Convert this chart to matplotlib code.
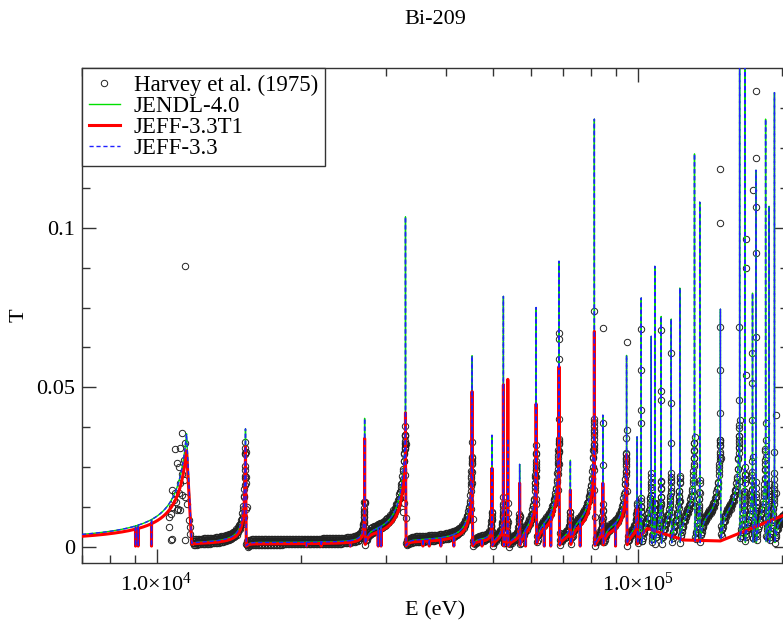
import numpy as np
import matplotlib
matplotlib.use("Agg")
import matplotlib.pyplot as plt
from matplotlib.lines import Line2D
from matplotlib.ticker import FixedLocator, NullFormatter, FixedFormatter

plt.rcParams['font.family'] = ['Liberation Serif', 'DejaVu Serif']
plt.rcParams['mathtext.fontset'] = 'custom'
plt.rcParams['mathtext.rm'] = 'Liberation Serif'
plt.rcParams['mathtext.it'] = 'Liberation Serif:italic'

# ---------------- data ----------------
title = "Bi-209"
x_label = "E (eV)"
y_label = "T"
series_labels = ["Harvey et al. (1975)", "JENDL-4.0", "JEFF-3.3T1", "JEFF-3.3"]

# resonance energies (eV)
res_E = np.array([11545, 15310, 27080, 32930, 45290, 49820, 52620, 53740, 56870,
                  61540, 68660, 72510, 81330, 84700, 94880, 99780, 101790, 106780,
                  108630, 112000, 117500, 122440, 131350, 134700, 148700, 163000,
                  167200, 173400, 176300, 184600, 187700, 192600, 210000])
# level reached by the smooth rise just below each resonance (JENDL / JEFF-3.3)
res_amp = np.array([0.0355, 0.036, 0.015, 0.036, 0.030, 0.012, 0.015, 0.015, 0.012,
                    0.030, 0.035, 0.012, 0.040, 0.015, 0.030, 0.015, 0.020, 0.025,
                    0.020, 0.025, 0.025, 0.025, 0.035, 0.025, 0.035, 0.040,
                    0.030, 0.030, 0.030, 0.035, 0.030, 0.030, 0.030])
# width of that rise (eV)
res_width = np.array([570, 79, 100, 690, 400, 150, 200, 100, 150,
                      500, 900, 200, 1000, 200, 1000, 300, 300, 500,
                      300, 400, 500, 500, 1000, 400, 1500, 1500,
                      500, 600, 400, 800, 400, 500, 1000])
# flat level between resonances
res_base = np.array([0.0, 0.0006, 0.0013, 0.0009, 0.0012, 0.002, 0.002, 0.002, 0.002,
                     0.002, 0.0025, 0.003, 0.003, 0.0025, 0.003, 0.004, 0.004, 0.005,
                     0.005, 0.005, 0.006, 0.006, 0.006, 0.006, 0.006, 0.007,
                     0.007, 0.007, 0.007, 0.007, 0.007, 0.007, 0.007])
# relative width of the fall just above each resonance
res_drop = np.array([0.026, 0.004, 0.003, 0.003, 0.003, 0.002, 0.002, 0.002, 0.002,
                     0.003, 0.003, 0.002, 0.003, 0.002, 0.003, 0.002, 0.002, 0.002,
                     0.002, 0.002, 0.002, 0.002, 0.003, 0.002, 0.003, 0.003,
                     0.002, 0.002, 0.002, 0.002, 0.002, 0.002, 0.002])
# spike tops
peak_jendl = np.array([0.0355, 0.037, 0.0403, 0.1034, 0.0599, 0.035, 0.0785, 0.034, 0.0259,
                       0.075, 0.0895, 0.0272, 0.134, 0.0413, 0.060, 0.0345, 0.078, 0.066,
                       0.0879, 0.0722, 0.0714, 0.0811, 0.1231, 0.108, 0.0745, 0.16,
                       0.16, 0.0795, 0.118, 0.134, 0.1067, 0.1423, 0.0])
peak_jeff33 = peak_jendl.copy()
# JEFF-3.3T1 (resonances below 100 keV)
t1_res_count = 16
t1_amp_scale = np.array([0.85, 0.82, 0.8, 0.8, 0.8, 0.8, 0.8, 0.8, 0.8,
                         0.8, 0.8, 0.8, 0.8, 0.8, 0.8, 0.8])
peak_t1 = np.array([0.030, 0.0314, 0.034, 0.042, 0.0487, 0.0247, 0.0508, 0.0525, 0.020,
                    0.0448, 0.0565, 0.0178, 0.0675, 0.020, 0.029, 0.012])
# JEFF-3.3T1 smooth part above 100 keV
t1_high_E = np.array([1.0e5, 1.048e5, 1.248e5, 1.487e5, 2.055e5])
t1_high_T = np.array([0.0025, 0.0058, 0.0022, 0.0019, 0.0105])
# narrow dips
dip_E = np.array([9045, 9160, 9763, 20500, 22000, 25300, 28900, 29300, 35800, 36900,
                  39000, 41500, 47500, 58500, 64000, 66000, 76000, 90000])

# Harvey et al. points read individually (E eV, T)
harvey_E = np.array([11307, 11488, 10951, 11216, 11040, 11126, 11396, 11216, 10781, 10951,
                     11126, 11307, 11488, 11581, 10781, 11040, 11216, 10693, 10606, 10606,
                     11672, 11766, 11766, 10781, 10740, 11488, 11000, 11100, 10870, 11300,
                     11420, 11450,
                     15200, 15100, 15380, 15390, 15330,
                     27000, 26950, 26900,
                     32930, 32880, 32830, 32700, 32500,
                     45290, 45200, 45100,
                     61540, 61500, 61450, 61400,
                     68660, 68640, 68700, 68600, 68550, 68500, 68400,
                     81330, 81300, 81250, 81200, 81100,
                     84770, 84760, 84700,
                     94900, 94880, 94850, 94800,
                     101790, 101780, 101700, 101750,
                     112000, 111950, 111900,
                     117500, 117450, 117400,
                     148700, 148650, 148600, 148700, 148400, 148500,
                     162700, 162650, 162600,
                     167900, 167800, 167700, 167600,
                     173400, 173300, 173200, 173100,
                     176500, 176550, 176550, 176400, 176600,
                     184600, 184900,
                     193600, 193800])
harvey_T = np.array([0.0356, 0.0325, 0.0307, 0.0310, 0.0262, 0.0251, 0.0209, 0.0199, 0.0178, 0.0168,
                     0.0168, 0.0162, 0.0157, 0.0136, 0.0126, 0.0115, 0.0115, 0.0105, 0.0094, 0.0063,
                     0.0084, 0.0063, 0.0042, 0.0026, 0.0021, 0.0021, 0.0140, 0.0120, 0.0147, 0.0230,
                     0.0272, 0.088,
                     0.0094, 0.0073, 0.0199, 0.0126, 0.022,
                     0.014, 0.0094, 0.0068,
                     0.038, 0.031, 0.0225, 0.0137, 0.011,
                     0.033, 0.020, 0.012,
                     0.032, 0.024, 0.022, 0.015,
                     0.067, 0.065, 0.059, 0.040, 0.030, 0.023, 0.018,
                     0.074, 0.040, 0.030, 0.024, 0.018,
                     0.0687, 0.0387, 0.0256,
                     0.0643, 0.0368, 0.034, 0.0277,
                     0.0682, 0.0555, 0.0388, 0.043,
                     0.068, 0.049, 0.046,
                     0.0607, 0.045, 0.0325,
                     0.069, 0.0555, 0.042, 0.1183, 0.1015, 0.0335,
                     0.069, 0.046, 0.0314,
                     0.0965, 0.0874, 0.054, 0.0251,
                     0.1117, 0.0608, 0.0514, 0.0398,
                     0.1064, 0.1217, 0.1428, 0.0922, 0.0659,
                     0.0387, 0.0282,
                     0.0413, 0.0168])
# Harvey points that lie in the dense band along the smooth transmission
harvey_band_lo, harvey_band_hi, harvey_band_n = 11900.0, 205000.0, 1600
harvey_band_offsets = np.array([0.0005, 0.001, 0.0015, 0.0022, 0.003, 0.004, 0.0055])
harvey_band_spread = 0.0011   # half-thickness of the dense band of circles

# ---------------- curves ----------------
def model(E, amp, width, base, drop, peaks, n):
    T = np.zeros_like(E)
    lo = None
    for i in range(n):
        Er, A, g, b = res_E[i], amp[i], width[i], base[i]
        if lo is None:
            m = E <= Er
            rec = 1.0
        else:
            m = (E > lo) & (E <= Er)
            rec = 1 - np.exp(-(E[m] - lo) / (0.012 * lo))
        T[m] = (b + (A - b) * g / (g + Er - E[m])) * rec
        lo = Er
    for i in range(n):
        Er, A, d = res_E[i], amp[i], drop[i] * res_E[i]
        m = (E > Er) & (E < Er + d)
        T[m] = np.maximum(T[m], A * (1 - (E[m] - Er) / d))
    if peaks is not None:
        for i in range(n):
            k = np.searchsorted(E, res_E[i])
            T[k] = max(T[k], peaks[i])
    return T

grid = np.geomspace(7000, 206000, 9000)
extra = np.concatenate([res_E, res_E * (1 - 3e-4), res_E * (1 + 3e-4),
                        dip_E, dip_E * (1 - 4e-4), dip_E * (1 + 4e-4)])
E = np.unique(np.concatenate([grid, extra]))
nres = len(res_E)

T_jendl = model(E, res_amp, res_width, res_base, res_drop, peak_jendl, nres)
T_jeff = model(E, res_amp, res_width, res_base, res_drop, peak_jeff33, nres)
T_t1 = model(E, res_amp[:t1_res_count] * t1_amp_scale, res_width[:t1_res_count],
             res_base[:t1_res_count] * 0.7, res_drop[:t1_res_count], peak_t1, t1_res_count)
for d in dip_E:
    k = np.searchsorted(E, d)
    T_jendl[k] = T_jeff[k] = T_t1[k] = 0.0003
keep = E < t1_high_E[0]
E_t1 = np.concatenate([E[keep], t1_high_E])
T_t1 = np.concatenate([T_t1[keep], t1_high_T])

band_E = np.concatenate([np.geomspace(harvey_band_lo, harvey_band_hi, harvey_band_n),
                         (res_E[1:-1, None] * (1 - harvey_band_offsets[None, :])).ravel()])
band_E = np.sort(band_E)
band_T = model(band_E, res_amp, res_width, res_base, res_drop, None, nres)
band_T = band_T + harvey_band_spread * np.tile([0.0, 1.0, -0.6, 0.5], len(band_T) // 4 + 1)[:len(band_T)]

# ---------------- figure ----------------
W, H = 783, 625
fig = plt.figure(figsize=(W / 100, H / 100), dpi=100)
L, R, Tp, B = 82, 788, 68, 563
ax = fig.add_axes([L / W, 1 - B / H, (R - L) / W, (B - Tp) / H])

ax.plot(np.concatenate([harvey_E, band_E]), np.concatenate([harvey_T, band_T]),
        ls='none', marker='o', ms=4.6, mfc='none', mec='#222222', mew=0.7, zorder=1)
ax.plot(E, T_jendl, color='#00e000', lw=1.0, zorder=2)
ax.plot(E_t1, T_t1, color='#ff0000', lw=2.2, zorder=3)
ax.plot(E, T_jeff, color='#2020ff', lw=1.0, ls=(0, (3, 2)), zorder=4)

ax.set_xscale('log')
ax.set_xlim(7000, 205500)
ax.set_ylim(-0.005, 0.15)

ax.xaxis.set_major_locator(FixedLocator([1e4, 1e5]))
ax.xaxis.set_major_formatter(FixedFormatter([r'$1.0{\times}10^{4}$', r'$1.0{\times}10^{5}$']))
minors = [m * 10 ** p for p in (3, 4, 5) for m in range(2, 10)]
ax.xaxis.set_minor_locator(FixedLocator(minors))
ax.xaxis.set_minor_formatter(NullFormatter())
ax.yaxis.set_major_locator(FixedLocator([0, 0.05, 0.1]))
ax.yaxis.set_major_formatter(FixedFormatter(['0', '0.05', '0.1']))
ax.yaxis.set_minor_locator(FixedLocator(np.arange(-0.0, 0.15, 0.0125)))

spine_c = '#333333'
for s in ax.spines.values():
    s.set_color(spine_c)
    s.set_linewidth(1.0)
ax.tick_params(which='both', direction='in', top=True, right=True, color=spine_c, width=1.0)
ax.tick_params(which='major', length=10, labelsize=16, pad=5)
ax.tick_params(which='minor', length=5.8)
ax.tick_params(axis='x', which='major', pad=7)

ax.set_xlabel(x_label, fontsize=16)
ax.xaxis.set_label_coords(0.5, -0.078)
ax.set_ylabel(y_label, fontsize=16)
ax.yaxis.set_label_coords(-0.076, 0.5)

fig.text(435 / W, 1 - 19 / H, title, ha='center', va='center', fontsize=16)

handles = [Line2D([], [], ls='none', marker='o', ms=4.6, mfc='none', mec='#222222', mew=0.7),
           Line2D([], [], color='#00e000', lw=1.0),
           Line2D([], [], color='#ff0000', lw=2.2),
           Line2D([], [], color='#2020ff', lw=1.0, ls=(0, (3, 2)))]
leg = ax.legend(handles, series_labels, loc='upper left', bbox_to_anchor=(0, 1),
                borderaxespad=0, frameon=True, fancybox=False, framealpha=1,
                edgecolor=spine_c, fontsize=16.5, handlelength=1.35, handletextpad=0.6,
                labelspacing=0.0, borderpad=0.3)
leg.get_frame().set_linewidth(1.0)
leg.set_zorder(10)

fig.savefig('out.png', dpi=100)
